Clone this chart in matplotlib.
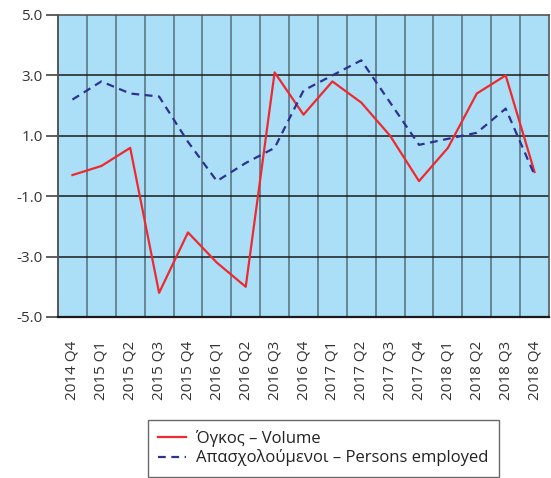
import matplotlib
matplotlib.use("Agg")
import matplotlib.pyplot as plt
import numpy as np

quarters = ["2014 Q4", "2015 Q1", "2015 Q2", "2015 Q3", "2015 Q4",
            "2016 Q1", "2016 Q2", "2016 Q3", "2016 Q4", "2017 Q1",
            "2017 Q2", "2017 Q3", "2017 Q4", "2018 Q1", "2018 Q2",
            "2018 Q3", "2018 Q4"]
volume = [-0.3, 0.0, 0.6, -4.2, -2.2, -3.2, -4.0, 3.1, 1.7, 2.8,
          2.1, 1.0, -0.5, 0.6, 2.4, 3.0, -0.2]
employed = [2.2, 2.8, 2.4, 2.3, 0.8, -0.5, 0.1, 0.6, 2.5, 3.0,
            3.5, 2.1, 0.7, 0.9, 1.1, 1.9, -0.3]
y_ticks = [-5.0, -3.0, -1.0, 1.0, 3.0, 5.0]

plt.rcParams["font.family"] = ["Open Sans", "DejaVu Sans"]

W, H = 551, 478
fig = plt.figure(figsize=(W / 100, H / 100), dpi=100)
ax = fig.add_axes([58 / W, 1 - 317 / H, (549 - 58) / W, (317 - 15) / H])
ax.set_facecolor("#abdff7")

n = len(quarters)
x = np.arange(n) + 0.5
ax.set_xlim(0, n)
ax.set_ylim(-5, 5)

# band separators and horizontal gridlines
for k in range(1, n):
    ax.axvline(k, color="#4a5f6a", lw=1.3, alpha=0.75, zorder=1)
for v in y_ticks[1:-1]:
    ax.axhline(v, color="#1a1a1a", lw=1.1, zorder=1)

ax.plot(x, volume, color="#ee2a2e", lw=1.6, zorder=3,
        label="Όγκος – Volume")
ax.plot(x, employed, color="#2e3192", lw=1.6, ls=(0, (3.5, 2.5)), zorder=3,
        label="Απασχολούμενοι – Persons employed")

ax.set_yticks(y_ticks)
ax.set_yticklabels([f"{v:.1f}" for v in y_ticks], fontsize=11, color="#333333")
ax.tick_params(axis="y", length=9, width=1.1, color="#333333", pad=2)

ax.set_xticks(x)
ax.set_xticklabels(quarters, rotation=90, fontsize=11, color="#333333")
ax.tick_params(axis="x", length=0, pad=17)

for side in ["top", "right"]:
    ax.spines[side].set_color("#555555")
    ax.spines[side].set_linewidth(1.2)
ax.spines["left"].set_color("#555555")
ax.spines["left"].set_linewidth(1.4)
ax.spines["bottom"].set_color("#1a1a1a")
ax.spines["bottom"].set_linewidth(1.6)

leg = fig.legend(loc="upper left", bbox_to_anchor=(148 / W, 1 - 420 / H),
                 fontsize=12, frameon=True, fancybox=False,
                 edgecolor="#444444", handlelength=1.7, handletextpad=0.6,
                 borderpad=0.6, labelspacing=0.15, borderaxespad=0)
leg.get_frame().set_linewidth(1.0)
for t in leg.get_texts():
    t.set_color("#222222")

fig.savefig("out.png", dpi=100)
